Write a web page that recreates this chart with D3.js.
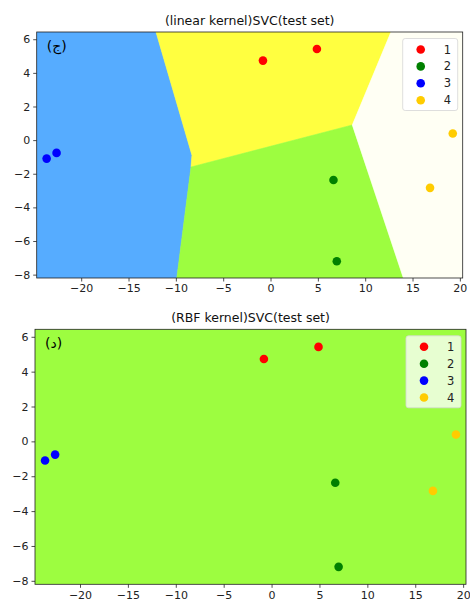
<!DOCTYPE html>
<html>
<head>
<meta charset="utf-8">
<script src="https://cdn.jsdelivr.net/npm/d3@7"></script>
<style>
  body { margin: 0; background: #fff; }
  svg { font-family: "DejaVu Sans", sans-serif; }
</style>
</head>
<body>
<svg id="chart" width="470" height="603"></svg>
<script>
// test set points, one array per class
const classes = ["1", "2", "3", "4"];
const classColors = ["#ff0000", "#008000", "#0000ff", "#ffcc00"];
const pointsX = [
  [-0.8, 4.9],
  [6.65, 7.0],
  [-23.65, -22.6],
  [19.25, 16.85]
];
const pointsY = [
  [4.73, 5.42],
  [-2.37, -7.2],
  [-1.1, -0.76],
  [0.39, -2.84]
];

// plot range (min-1, max+1)
const xDomain = [-24.7, 20.3];
const yDomain = [-8.2, 6.43];
const xTicks = [-20, -15, -10, -5, 0, 5, 10, 15, 20];
const yTicks = [-8, -6, -4, -2, 0, 2, 4, 6];

// decision regions of the linear kernel, in data coords
const linearRegions = [
  { cls: 2, pts: [[-24.7, 6.43], [-12.1, 6.43], [-8.3, -0.9], [-8.4, -1.6], [-9.9, -8.2], [-24.7, -8.2]] },
  { cls: 0, pts: [[-12.1, 6.43], [12.72, 6.43], [8.64, 0.9], [-8.4, -1.6], [-8.3, -0.9]] },
  { cls: 1, pts: [[-8.4, -1.6], [8.64, 0.9], [14.03, -8.2], [-9.9, -8.2]] },
  { cls: 3, pts: [[12.72, 6.43], [20.3, 6.43], [20.3, -8.2], [14.03, -8.2], [8.64, 0.9]] }
];
// rbf kernel predicts one class everywhere
const rbfRegions = [
  { cls: 1, pts: [[-24.7, 6.43], [20.3, 6.43], [20.3, -8.2], [-24.7, -8.2]] }
];
// region colours (contourf with alpha .75 over white)
const regionColors = ["#ffff40", "#9dfd40", "#56acff", "#fffff4"];

const panels = [
  { title: "(linear kernel)SVC(test set)", tag: "(ج)", regions: linearRegions,
    left: 36.7, right: 462.7, top: 32, bottom: 278, legendBg: "#ffffff" },
  { title: "(RBF kernel)SVC(test set)", tag: "(د)", regions: rbfRegions,
    left: 35, right: 466, top: 329.3, bottom: 584.3, legendBg: "#ebfed9" }
];

const svg = d3.select("#chart");

panels.forEach(function (p, pi) {
  const x = d3.scaleLinear().domain(xDomain).range([p.left, p.right]);
  const y = d3.scaleLinear().domain(yDomain).range([p.bottom, p.top]);
  const g = svg.append("g");

  g.append("clipPath").attr("id", "clip" + pi)
    .append("rect")
    .attr("x", p.left).attr("y", p.top)
    .attr("width", p.right - p.left).attr("height", p.bottom - p.top);

  const line = d3.line().x(d => x(d[0])).y(d => y(d[1]));

  g.append("g").attr("clip-path", "url(#clip" + pi + ")")
    .selectAll("path")
    .data(p.regions)
    .enter().append("path")
    .attr("d", d => line(d.pts) + "Z")
    .attr("fill", d => regionColors[d.cls])
    .attr("stroke", d => regionColors[d.cls])
    .attr("stroke-width", 0.6);

  // scatter
  classes.forEach(function (c, ci) {
    g.selectAll(".pt" + ci)
      .data(pointsX[ci].map((v, i) => [v, pointsY[ci][i]]))
      .enter().append("circle")
      .attr("cx", d => x(d[0]))
      .attr("cy", d => y(d[1]))
      .attr("r", 4.3)
      .attr("fill", classColors[ci]);
  });

  // axes
  const xAxis = g.append("g")
    .attr("transform", "translate(0," + p.bottom + ")")
    .call(d3.axisBottom(x).tickValues(xTicks).tickSize(3.5).tickPadding(3));
  const yAxis = g.append("g")
    .attr("transform", "translate(" + p.left + ",0)")
    .call(d3.axisLeft(y).tickValues(yTicks).tickSize(3.5).tickPadding(3));
  [xAxis, yAxis].forEach(function (a) {
    a.select(".domain").remove();
    a.selectAll("text").attr("font-size", 11).attr("fill", "#222")
      .attr("font-family", "DejaVu Sans, sans-serif");
    a.selectAll("line").attr("stroke", "#222").attr("stroke-width", 0.8);
  });

  g.append("rect")
    .attr("x", p.left).attr("y", p.top)
    .attr("width", p.right - p.left).attr("height", p.bottom - p.top)
    .attr("fill", "none").attr("stroke", "#222").attr("stroke-width", 0.8);

  g.append("text")
    .attr("x", (p.left + p.right) / 2)
    .attr("y", p.top - 7)
    .attr("text-anchor", "middle")
    .attr("font-size", 12.5)
    .attr("fill", "#111")
    .text(p.title);

  g.append("text")
    .attr("x", p.left + 10)
    .attr("y", p.top + 19)
    .attr("font-size", 14)
    .attr("fill", "#000")
    .text(p.tag);

  // legend
  const lx = p.right - 60, ly = p.top + 6.5;
  g.append("rect")
    .attr("x", lx).attr("y", ly)
    .attr("width", 55).attr("height", 72)
    .attr("rx", 2.5)
    .attr("fill", p.legendBg).attr("fill-opacity", 0.95)
    .attr("stroke", "#d6d6d6").attr("stroke-width", 0.8);
  const items = g.selectAll(".leg").data(classes).enter().append("g")
    .attr("transform", (d, i) => "translate(" + lx + "," + (ly + 11 + i * 16.9) + ")");
  items.append("circle")
    .attr("cx", 18).attr("cy", 0).attr("r", 4.3)
    .attr("fill", (d, i) => classColors[i]);
  items.append("text")
    .attr("x", 41).attr("y", 4)
    .attr("font-size", 11.5)
    .attr("fill", "#222")
    .text(d => d);
});
</script>
</body>
</html>
